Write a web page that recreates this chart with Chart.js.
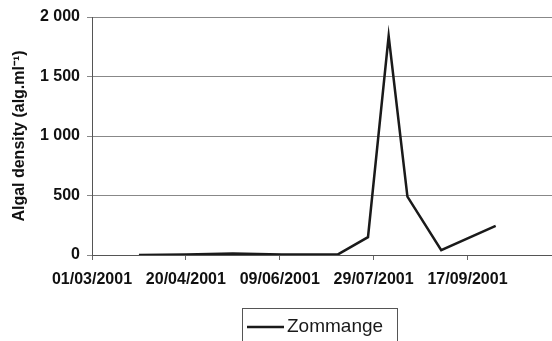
<!DOCTYPE html>
<html>
<head>
<meta charset="utf-8">
<script src="https://cdn.jsdelivr.net/npm/chart.js@4.4.1/dist/chart.umd.min.js"></script>
<style>
  html, body { margin: 0; padding: 0; background: #fff; }
  #wrap { width: 552px; height: 341px; position: relative; }
</style>
</head>
<body>
<div id="wrap"><canvas id="algae"></canvas></div>
<script>
// sampling dates and algal density (alg/ml)
var sampleDates = ['26/03/2001', '20/04/2001', '15/05/2001', '10/06/2001', '10/07/2001',
                   '26/07/2001', '06/08/2001', '16/08/2001', '03/09/2001', '02/10/2001'];
var zommange = [0, 5, 12, 4, 5, 150, 1840, 490, 40, 245];
var seriesName = 'Zommange';

// x axis: days counted from 01/03/2001, one tick every 50 days
var startDate = '01/03/2001';
var xTickDays = [0, 50, 100, 150, 200];
var xMaxDays = 245;
var yTicks = [0, 500, 1000, 1500, 2000];
var yTitle = 'Algal density (alg.ml\u207B\u00B9)';

function parseDate(s) {
  var p = s.split('/');
  return Date.UTC(+p[2], +p[1] - 1, +p[0]);
}
var DAY = 86400000;
var t0 = parseDate(startDate);
function dayOf(s) { return Math.round((parseDate(s) - t0) / DAY); }
function dateLabel(d) {
  var dt = new Date(t0 + d * DAY);
  var dd = String(dt.getUTCDate()).padStart(2, '0');
  var mm = String(dt.getUTCMonth() + 1).padStart(2, '0');
  return dd + '/' + mm + '/' + dt.getUTCFullYear();
}
function thousands(v) {
  return String(v).replace(/\B(?=(\d{3})+(?!\d))/g, ' ');
}

var points = sampleDates.map(function (s, i) { return { x: dayOf(s), y: zommange[i] }; });

var tickFont = { family: 'Liberation Sans, Arial, sans-serif', size: 16, weight: 'bold' };

// legend box drawn by hand, it sits off-centre under the plot
var boxLegend = {
  id: 'boxLegend',
  afterDraw: function (chart) {
    var c = chart.ctx;
    var ds = chart.data.datasets[0];
    c.save();
    c.strokeStyle = '#555';
    c.lineWidth = 1;
    c.strokeRect(242.5, 308.5, 155, 40);
    c.strokeStyle = ds.borderColor;
    c.lineWidth = 2.5;
    c.beginPath();
    c.moveTo(247, 327);
    c.lineTo(284, 327);
    c.stroke();
    c.fillStyle = '#1a1a1a';
    c.font = '19px "Liberation Sans", Arial, sans-serif';
    c.textBaseline = 'middle';
    c.fillText(ds.label, 287, 327);
    c.restore();
  }
};

new Chart(document.getElementById('algae').getContext('2d'), {
  type: 'line',
  data: {
    datasets: [{
      label: seriesName,
      data: points,
      borderColor: '#1a1a1a',
      borderWidth: 2.5,
      pointRadius: 0,
      tension: 0,
      fill: false
    }]
  },
  options: {
    responsive: true,
    maintainAspectRatio: false,
    animation: false,
    layout: { padding: { top: 17, right: 0, left: 0, bottom: 0 } },
    plugins: { legend: { display: false }, tooltip: { enabled: false } },
    scales: {
      x: {
        type: 'linear',
        min: 0,
        max: xMaxDays,
        afterBuildTicks: function (s) { s.ticks = xTickDays.map(function (v) { return { value: v }; }); },
        afterFit: function (s) { s.height = 86; },
        ticks: {
          autoSkip: false,
          maxRotation: 0,
          padding: 10,
          color: '#111',
          font: tickFont,
          callback: function (v) { return dateLabel(v); }
        },
        grid: { drawOnChartArea: false, drawTicks: true, tickLength: 5, color: '#666' },
        border: { color: '#555', width: 1 }
      },
      y: {
        min: 0,
        max: 2000,
        afterBuildTicks: function (s) { s.ticks = yTicks.map(function (v) { return { value: v }; }); },
        afterFit: function (s) { s.width = 92; },
        ticks: {
          padding: 7,
          color: '#111',
          font: tickFont,
          callback: function (v) { return thousands(v); }
        },
        grid: { color: '#888', lineWidth: 1, tickLength: 5 },
        border: { color: '#555', width: 1 },
        title: {
          display: true,
          text: yTitle,
          color: '#111',
          font: { family: 'Liberation Sans, Arial, sans-serif', size: 16, weight: 'bold' },
          padding: { top: 10, bottom: 4 }
        }
      }
    }
  },
  plugins: [boxLegend]
});
</script>
</body>
</html>
